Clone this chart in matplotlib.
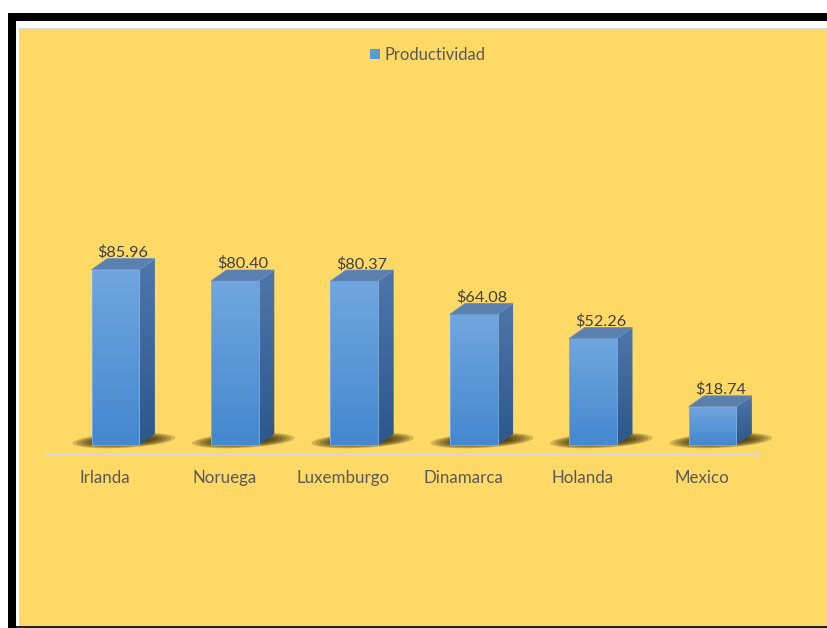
import numpy as np
import matplotlib
matplotlib.use("Agg")
import matplotlib.pyplot as plt
from matplotlib.patches import Rectangle, Polygon, Patch

# Productividad por país (USD por hora)
paises = ["Irlanda", "Noruega", "Luxemburgo", "Dinamarca", "Holanda", "Mexico"]
productividad = [85.96, 80.40, 80.37, 64.08, 52.26, 18.74]
etiquetas = ["$85.96", "$80.40", "$80.37", "$64.08", "$52.26", "$18.74"]
serie = "Productividad"

W, H = 827, 628
plt.rcParams["font.family"] = ["Lato", "DejaVu Sans"]

fig = plt.figure(figsize=(W / 100, H / 100), dpi=100)
fig.patch.set_facecolor("white")
ax = fig.add_axes([0, 0, 1, 1])
ax.set_axis_off()

# pixel layout of the plotting area
X0, DX = 115.5, 119.4      # first category centre, spacing (px)
Y0, SY = 445.0, 2.04       # baseline (px from top), px per unit
ax.set_xlim((0 - X0) / DX, (W - X0) / DX)
ax.set_ylim((Y0 - H) / SY, (Y0 - 0) / SY)


def fx(px):
    return px / W


def fy(py):
    return 1 - py / H


# frame: black border, white gap, grey edge, gold panel
def rect_px(x0, y0, x1, y1, color, z):
    ax.add_patch(Rectangle((fx(x0), fy(y1)), fx(x1) - fx(x0), fy(y0) - fy(y1),
                           transform=ax.transAxes, facecolor=color,
                           edgecolor="none", zorder=z))


rect_px(8, 13, W, 21, "black", 0)
rect_px(8, 13, 16, H, "black", 0)
rect_px(16, 626, W, H, "#222222", 0)
rect_px(19, 28, W, 626, "#d9d9d9", 0.1)
rect_px(20, 29, W, 626, "#FFD966", 0.2)

# bar geometry (data units)
bw = 0.40
ddx = 15.5 / DX
ddy = 11.0 / SY

front_top = np.array([112, 166, 223]) / 255
front_bot = np.array([68, 136, 207]) / 255
side_top = np.array([78, 118, 170]) / 255
side_bot = np.array([44, 88, 140]) / 255
top_col = "#5A80B0"

floor_y = (Y0 - 453.5) / SY
ax.plot([(45 - X0) / DX, (760 - X0) / DX], [floor_y, floor_y],
        color="#d9d9d9", lw=1.8, zorder=1, solid_capstyle="butt")

t = np.linspace(0, 2 * np.pi, 80)
grad = np.linspace(0, 1, 64)[:, None, None]

for i, v in enumerate(productividad):
    L, R = i - bw / 2, i + bw / 2

    # soft cast shadow on the floor (sheared ellipse, layered for blur)
    cx, cy = i + 0.07, 2.2
    a0, b0 = 0.43, 3.6
    shear = 3.0
    for k in range(10):
        s = 1 - k * 0.08
        xs = cx + a0 * s * np.cos(t)
        ys = cy + b0 * s * np.sin(t) + shear * (a0 * s * np.cos(t))
        ax.add_patch(Polygon(np.column_stack([xs, ys]), closed=True,
                             facecolor="#2e2300", edgecolor="none",
                             alpha=0.2, zorder=2))

    # front face with vertical gradient
    img = front_top * (1 - grad) + front_bot * grad
    img = np.repeat(img, 2, axis=1)
    front = Rectangle((L, 0), bw, v, facecolor="none", edgecolor="none", zorder=4)
    ax.add_patch(front)
    im = ax.imshow(img, extent=(L, R, 0, v), aspect="auto", zorder=4,
                   interpolation="bilinear")
    im.set_clip_path(front)
    ax.add_patch(Rectangle((L, 0), bw, v, facecolor="none",
                           edgecolor="#7fb0e3", lw=0.6, zorder=4.5))

    # side face with gradient
    side = Polygon([(R, 0), (R + ddx, ddy), (R + ddx, v + ddy), (R, v)],
                   closed=True, facecolor="none", edgecolor="none", zorder=3)
    ax.add_patch(side)
    simg = side_top * (1 - grad) + side_bot * grad
    simg = np.repeat(simg, 2, axis=1)
    im2 = ax.imshow(simg, extent=(R, R + ddx, 0, v + ddy), aspect="auto",
                    zorder=3, interpolation="bilinear")
    im2.set_clip_path(side)

    # top face
    ax.add_patch(Polygon([(L, v), (R, v), (R + ddx, v + ddy), (L + ddx, v + ddy)],
                         closed=True, facecolor=top_col, edgecolor="#6a8fbf",
                         lw=0.5, zorder=5))

    # value label
    ax.text(i + ddx / 2, v + ddy + 1.0, etiquetas[i], ha="center",
            va="baseline", fontsize=11.7, color="#404040", zorder=6)

    # category label
    ax.text(i - 0.09, (Y0 - 483) / SY, paises[i], ha="center", va="baseline",
            fontsize=12.2, color="#595959", zorder=6)

# legend
handle = Patch(facecolor="#5B9BD5", edgecolor="none", label=serie)
leg = ax.legend(handles=[handle], loc="center",
                bbox_to_anchor=(fx(428), fy(55)), frameon=False,
                fontsize=11.9, handlelength=0.55, handleheight=0.55,
                handletextpad=0.3, borderpad=0)
for tx in leg.get_texts():
    tx.set_color("#595959")

fig.savefig("out.png", dpi=100, facecolor="white")
